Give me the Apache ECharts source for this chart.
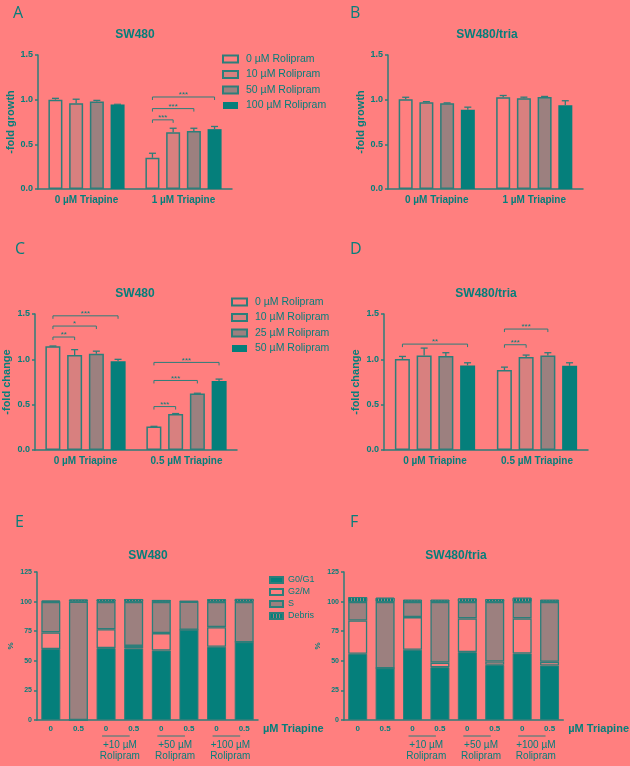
<!DOCTYPE html>
<html><head><meta charset="utf-8">
<script src="https://cdn.jsdelivr.net/npm/echarts@6/dist/echarts.min.js"></script>
<style>html,body{margin:0;padding:0;background:#FF7F7F;}#c{width:630px;height:766px;}</style>
</head><body><div id="c"></div>
<script>
// ---------------- data ----------------
const grpAB = ['0 µM Triapine', '1 µM Triapine'];
const grpCD = ['0 µM Triapine', '0.5 µM Triapine'];
const rolAB = ['0 µM Rolipram', '10 µM Rolipram', '50 µM Rolipram', '100 µM Rolipram'];
const rolCD = ['0 µM Rolipram', '10 µM Rolipram', '25 µM Rolipram', '50 µM Rolipram'];
const yTicksFold = [0, 0.5, 1.0, 1.5];

// means per rolipram level: [first triapine group, second triapine group]
const aMean = [[1.00, 0.35], [0.96, 0.635], [0.98, 0.648], [0.945, 0.67]];
const aErr  = [[0.015, 0.05], [0.045, 0.045], [0.012, 0.032], [0.003, 0.03]];
const bMean = [[1.005, 1.027], [0.97, 1.016], [0.96, 1.03], [0.886, 0.938]];
const bErr  = [[0.022, 0.02], [0.008, 0.012], [0.004, 0.006], [0.03, 0.05]];
const cMean = [[1.143, 0.258], [1.047, 0.398], [1.062, 0.623], [0.98, 0.76]];
const cErr  = [[0.004, 0.003], [0.06, 0.004], [0.028, 0.003], [0.02, 0.022]];
const dMean = [[1.003, 0.881], [1.043, 1.025], [1.036, 1.043], [0.933, 0.929]];
const dErr  = [[0.029, 0.033], [0.081, 0.022], [0.037, 0.03], [0.029, 0.033]];

// significance brackets: [group, fromBar, toBar, level, label]
const sigA = [[1, 0, 1, 0.774, '***'], [1, 0, 2, 0.90, '***'], [1, 0, 3, 1.03, '***']];
const sigB = [];
const sigC = [[0, 0, 1, 1.246, '**'], [0, 0, 2, 1.367, '*'], [0, 0, 3, 1.48, '***'],
              [1, 0, 1, 0.479, '***'], [1, 0, 2, 0.767, '***'], [1, 0, 3, 0.966, '***']];
const sigD = [[0, 0, 3, 1.168, '**'], [1, 0, 1, 1.161, '***'], [1, 0, 2, 1.334, '***']];

// cell cycle
const cycCats = ['0', '0.5', '0', '0.5', '0', '0.5', '0', '0.5'];
const rolGroups = ['', '+10 µM\nRolipram', '+50 µM\nRolipram', '+100 µM\nRolipram'];
const groupPairs = [[2, 3], [4, 5], [6, 7]];
const phases = ['G0/G1', 'G2/M', 'S', 'Debris'];
const yTicksPct = [0, 25, 50, 75, 100, 125];
const eG0  = [60, 0, 60.7, 60.4, 58.7, 76.2, 61.8, 65.7];
const eG2  = [14, 0, 16, 2.2, 14.7, 0, 16.6, 0];
const eS   = [25.8, 100, 23, 37.2, 26.4, 23.7, 21.4, 34.1];
const eDeb = [1, 1.8, 2.3, 2.4, 1.6, 0.6, 2.3, 2.5];
const fG0  = [55.9, 43.7, 59.3, 44.6, 57.3, 46.6, 56.2, 46];
const fG2  = [28.2, 0, 27.6, 3.9, 28.5, 2.8, 29.6, 3.1];
const fS   = [15.5, 55.9, 12.7, 51.1, 13.8, 50.2, 13.8, 50.5];
const fDeb = [4.2, 3.7, 2, 2, 3.1, 2.5, 3.7, 2];

// ---------------- style ----------------
const BG = '#FF7F7F', TEAL = '#057F7B', EDGE = '#2C7E7A', C10 = '#D8807F', C50 = '#9C807F';
const FONT = '"Liberation Sans", Arial, sans-serif';
const barColors = [BG, C10, C50, TEAL];

const chart = echarts.init(document.getElementById('c'), null, {renderer: 'canvas'});

const grids = [
  {left: 38, top: 55, width: 194, height: 134},
  {left: 388, top: 55, width: 195, height: 134},
  {left: 33, top: 314, width: 204, height: 136},
  {left: 384, top: 314, width: 204, height: 136},
  {left: 37, top: 572, width: 221, height: 148},
  {left: 344, top: 572, width: 223, height: 148}
];

function catAxis(gi, data, fs, margin, extra) {
  return Object.assign({
    type: 'category', gridIndex: gi, data: data,
    axisLine: {lineStyle: {color: EDGE, width: 1.5}},
    axisTick: {alignWithLabel: true, length: 3, lineStyle: {color: EDGE, width: 1.5}},
    axisLabel: {fontSize: fs, fontWeight: 'bold', color: TEAL, fontFamily: FONT, margin: margin, interval: 0},
    splitLine: {show: false}
  }, extra || {});
}
function valAxis(gi, name, gap, ticks, fs, dec) {
  return {
    type: 'value', gridIndex: gi, min: ticks[0], max: ticks[ticks.length - 1],
    interval: ticks[1] - ticks[0],
    name: name, nameLocation: 'middle', nameGap: gap, nameRotate: 90,
    nameTextStyle: {fontSize: name === '%' ? 8 : 11, fontWeight: 'bold', color: TEAL, fontFamily: FONT},
    axisLine: {show: true, lineStyle: {color: EDGE, width: 1.5}},
    axisTick: {show: true, length: 3, lineStyle: {color: EDGE, width: 1.5}},
    axisLabel: {fontSize: fs, fontWeight: 'bold', color: TEAL, fontFamily: FONT, margin: 5,
      formatter: v => dec ? v.toFixed(1) : String(v)},
    splitLine: {show: false}
  };
}

const triName = {name: 'µM Triapine', nameLocation: 'end', nameGap: 5,
  nameTextStyle: {fontSize: 11, fontWeight: 'bold', color: TEAL, fontFamily: FONT, verticalAlign: 'top', padding: [3, 0, 0, 0]}};
const groupAxis = gi => ({type: 'category', gridIndex: gi, data: rolGroups, position: 'bottom',
  axisLine: {show: false}, axisTick: {show: false},
  axisLabel: {fontSize: 10, color: TEAL, fontFamily: FONT, margin: 20, lineHeight: 11, interval: 0}});

const xAxes = [
  catAxis(0, grpAB, 10, 6), catAxis(1, grpAB, 10, 6),
  catAxis(2, grpCD, 10, 6), catAxis(3, grpCD, 10, 6),
  catAxis(4, cycCats, 8, 5, triName), catAxis(5, cycCats, 8, 5, triName),
  groupAxis(4), groupAxis(5)
];
const yAxes = [
  valAxis(0, '-fold growth', 21, yTicksFold, 9, true),
  valAxis(1, '-fold growth', 21, yTicksFold, 9, true),
  valAxis(2, '-fold change', 23, yTicksFold, 9, true),
  valAxis(3, '-fold change', 23, yTicksFold, 9, true),
  valAxis(4, '%', 22, yTicksPct, 7, false),
  valAxis(5, '%', 22, yTicksPct, 7, false)
];

const series = [];
function addBarPanel(gi, prefix, names, means, errs, sigs, bw, gap, pitch) {
  names.forEach((n, k) => {
    series.push({
      type: 'bar', name: prefix + n, xAxisIndex: gi, yAxisIndex: gi,
      barWidth: bw, barGap: gap,
      itemStyle: {color: barColors[k], borderColor: EDGE, borderWidth: k === 3 ? 0 : 1.5},
      data: means[k]
    });
    series.push({
      type: 'custom', xAxisIndex: gi, yAxisIndex: gi, z: 5, silent: true,
      data: means[k].map((m, g) => [g, m, m + errs[k][g]]),
      encode: {x: 0, y: [1, 2]},
      renderItem: (p, api) => {
        const a = api.coord([api.value(0), api.value(1)]);
        const b = api.coord([api.value(0), api.value(2)]);
        const x = a[0] + (k - 1.5) * pitch;
        return {type: 'group', children: [
          {type: 'line', shape: {x1: x, y1: a[1], x2: x, y2: b[1]}, style: {stroke: EDGE, lineWidth: 1.3}},
          {type: 'line', shape: {x1: x - 3.5, y1: b[1], x2: x + 3.5, y2: b[1]}, style: {stroke: EDGE, lineWidth: 1.3}}
        ]};
      }
    });
  });
  if (sigs.length) {
    series.push({
      type: 'custom', xAxisIndex: gi, yAxisIndex: gi, z: 6, silent: true,
      data: sigs.map(s => [s[0], s[1], s[2], s[3]]),
      encode: {x: 0, y: 3},
      renderItem: (p, api) => {
        const c = api.coord([api.value(0), api.value(3)]);
        const x1 = c[0] + (api.value(1) - 1.5) * pitch;
        const x2 = c[0] + (api.value(2) - 1.5) * pitch;
        const y = c[1];
        return {type: 'group', children: [
          {type: 'polyline', shape: {points: [[x1, y + 3], [x1, y], [x2, y], [x2, y + 3]]},
            style: {stroke: EDGE, lineWidth: 1, fill: null}},
          {type: 'text', x: (x1 + x2) / 2, y: y + 2,
            style: {text: sigs[p.dataIndex][4], align: 'center', verticalAlign: 'bottom',
              fill: TEAL, fontSize: 8, fontFamily: FONT}}
        ]};
      }
    });
  }
}
addBarPanel(0, 'AB:', rolAB, aMean, aErr, sigA, 14, '48%', 20.7);
addBarPanel(1, 'AB:', rolAB, bMean, bErr, sigB, 14, '48%', 20.7);
addBarPanel(2, 'CD:', rolCD, cMean, cErr, sigC, 15, '45%', 21.7);
addBarPanel(3, 'CD:', rolCD, dMean, dErr, sigD, 15, '45%', 21.7);

const phaseStyles = [
  {color: TEAL, borderColor: EDGE, borderWidth: 1},
  {color: BG, borderColor: EDGE, borderWidth: 1.3},
  {color: C50, borderColor: EDGE, borderWidth: 1.3},
  {color: TEAL, borderColor: EDGE, borderWidth: 1,
    decal: {symbol: 'rect', symbolSize: 1, color: C50, dashArrayX: [1, 2], dashArrayY: [2, 0]}}
];
function addCycle(gi, stack, arrs) {
  phases.forEach((ph, k) => {
    series.push({type: 'bar', name: ph, stack: stack, xAxisIndex: gi, yAxisIndex: gi,
      barWidth: 19, itemStyle: phaseStyles[k], data: arrs[k]});
  });
  // underline above each rolipram group label
  series.push({
    type: 'custom', xAxisIndex: gi, yAxisIndex: gi, silent: true, z: 3,
    data: groupPairs.map(p => [p[0], p[1], 0]),
    encode: {x: 0, y: 2},
    renderItem: (p, api) => {
      const a = api.coord([api.value(0), 0]);
      const b = api.coord([api.value(1), 0]);
      return {type: 'line', shape: {x1: a[0] - 4, y1: a[1] + 16, x2: b[0] - 4, y2: a[1] + 16},
        style: {stroke: EDGE, lineWidth: 1}};
    }
  });
}
addCycle(4, 'E', [eG0, eG2, eS, eDeb]);
addCycle(5, 'F', [fG0, fG2, fS, fDeb]);

const letter = (t, l, tp) => ({text: t, left: l, top: tp, padding: 0,
  textStyle: {fontSize: 16, fontWeight: 'normal', color: TEAL, fontFamily: '"Open Sans", sans-serif'}});
const ttl = (t, cx, tp) => ({text: t, left: cx, top: tp, textAlign: 'center', padding: 0,
  textStyle: {fontSize: 12, fontWeight: 'bold', color: TEAL, fontFamily: FONT}});

const strip = n => n.replace(/^(AB|CD):/, '');
const legendText = {color: TEAL, fontFamily: FONT, fontSize: 10.5, lineHeight: 12, padding: [0, 0, 0, 3]};

chart.setOption({
  backgroundColor: BG,
  animation: false,
  title: [
    letter('A', 13, 5), letter('B', 350, 5), letter('C', 15, 241), letter('D', 350, 241),
    letter('E', 15, 514), letter('F', 350, 514),
    ttl('SW480', 135, 29), ttl('SW480/tria', 487, 29),
    ttl('SW480', 135, 288), ttl('SW480/tria', 486, 288),
    ttl('SW480', 148, 550), ttl('SW480/tria', 456, 550)
  ],
  legend: [
    {left: 222, top: 53, padding: 0, orient: 'vertical', icon: 'rect', itemWidth: 15, itemHeight: 7, itemGap: 3.5,
      selectedMode: false, data: rolAB.map(n => 'AB:' + n), formatter: strip, textStyle: legendText},
    {left: 231, top: 296, padding: 0, orient: 'vertical', icon: 'rect', itemWidth: 15, itemHeight: 7, itemGap: 3.5,
      selectedMode: false, data: rolCD.map(n => 'CD:' + n), formatter: strip, textStyle: legendText},
    {left: 269, top: 575, padding: 0, orient: 'vertical', icon: 'rect', itemWidth: 13, itemHeight: 6, itemGap: 2,
      selectedMode: false, data: phases, textStyle: {color: TEAL, fontFamily: FONT, fontSize: 9, lineHeight: 10}}
  ],
  grid: grids,
  xAxis: xAxes,
  yAxis: yAxes,
  series: series
});
</script></body></html>
